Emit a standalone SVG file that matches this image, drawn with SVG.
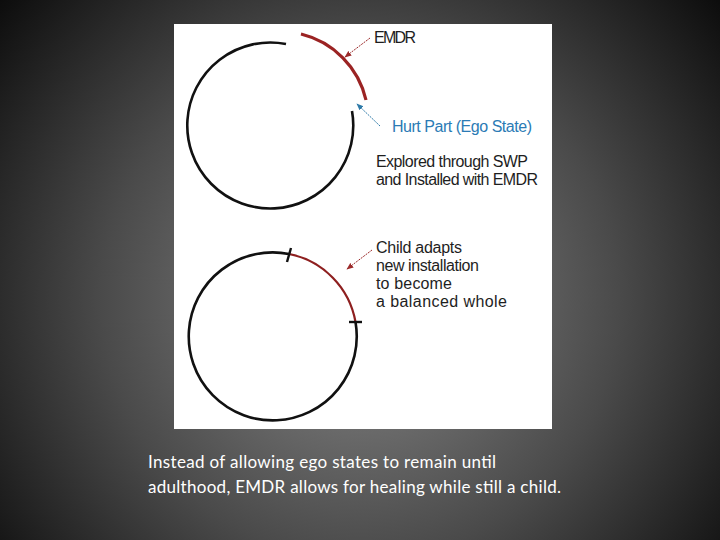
<svg xmlns="http://www.w3.org/2000/svg" width="720" height="540" viewBox="0 0 720 540">
<defs>
<radialGradient id="bg" cx="360" cy="300" r="470" gradientUnits="userSpaceOnUse">
<stop offset="0" stop-color="#8a8a8a"/>
<stop offset="0.55" stop-color="#4a4a4a"/>
<stop offset="1" stop-color="#0c0c0c"/>
</radialGradient>
<marker id="ar" viewBox="0 0 10 10" refX="9" refY="5" markerWidth="7" markerHeight="7" orient="auto" markerUnits="userSpaceOnUse">
<path d="M0 1 L10 5 L0 9 z" fill="#9b2a2a"/>
</marker>
<marker id="ab" viewBox="0 0 10 10" refX="9" refY="5" markerWidth="7" markerHeight="7" orient="auto" markerUnits="userSpaceOnUse">
<path d="M0 1 L10 5 L0 9 z" fill="#2e7aa8"/>
</marker>
</defs>
<style>
.lbl{font-family:"Liberation Sans","DejaVu Sans",sans-serif;font-size:16px;fill:#1e1e1e}
.blue{fill:#2b7bb5}
.cap{font-family:Lato,"Liberation Sans",sans-serif;font-size:17px;fill:#ffffff}
.blk{fill:none;stroke:#111;stroke-width:2.6}
.red{fill:none;stroke:#9b2323;stroke-width:3.2}
.red2{fill:none;stroke:#8e1f1f;stroke-width:2.2}
.ra{stroke:#9b2a2a;stroke-width:1;stroke-dasharray:2 1}
.ba{stroke:#2e7aa8;stroke-width:1;stroke-dasharray:2 1}
</style>
<rect width="720" height="540" fill="url(#bg)"/>
<rect x="174" y="24" width="378" height="405" fill="#ffffff"/>
<g id="top-circle">
<path class="blk" d="M286 44 A83 83 0 1 0 352 111"/>
<path class="red" d="M301 34 A88 88 0 0 1 366 100"/>
</g>
<g id="bottom-circle">
<path class="blk" d="M289 254 A84 84 0 1 0 355.5 322"/>
<path class="red2" d="M289 254 A84 84 0 0 1 355.5 322"/>
<line x1="287" y1="262" x2="291" y2="248" stroke="#111" stroke-width="2.4"/>
<line x1="349" y1="322" x2="362" y2="322" stroke="#111" stroke-width="2.4"/>
</g>
<g id="connectors">
<line class="ra" x1="370" y1="38" x2="345" y2="57" marker-end="url(#ar)"/>
<line class="ba" x1="380" y1="126" x2="357" y2="104" marker-end="url(#ab)"/>
<line class="ra" x1="372" y1="250" x2="347" y2="269" marker-end="url(#ar)"/>
</g>
<g id="label-emdr"><text class="lbl" x="374" y="43" textLength="42">EMDR</text></g>
<g id="label-hurt"><text class="lbl blue" x="392" y="132" textLength="140">Hurt Part (Ego State)</text></g>
<g id="label-explored">
<text class="lbl" x="376" y="167" textLength="152">Explored through SWP</text>
<text class="lbl" x="376" y="185" textLength="162">and Installed with EMDR</text>
</g>
<g id="label-child">
<text class="lbl" x="376" y="253" textLength="86">Child adapts</text>
<text class="lbl" x="376" y="271" textLength="103">new installation</text>
<text class="lbl" x="376" y="289" textLength="76">to become</text>
<text class="lbl" x="376" y="307" textLength="131">a balanced whole</text>
</g>
<g id="caption">
<text class="cap" x="148" y="468" textLength="348">Instead of allowing ego states to remain until</text>
<text class="cap" x="148" y="493" textLength="413">adulthood, EMDR allows for healing while still a child.</text>
</g>
</svg>
